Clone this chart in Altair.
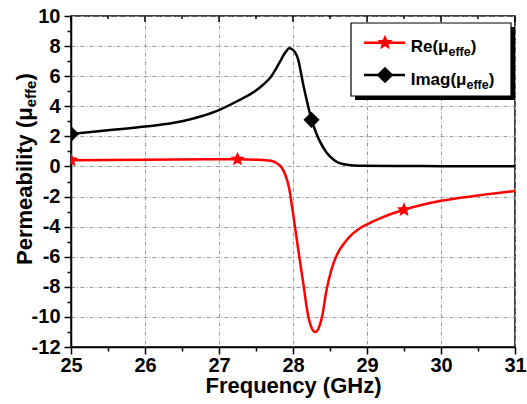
import altair as alt
import pandas as pd

# ---------------- data ----------------
freq_re = [25.0, 26.0, 27.0, 27.25, 27.5, 27.7, 27.75, 27.8, 27.85, 27.9, 27.95, 28.0,
           28.07, 28.14, 28.2, 28.25, 28.3, 28.35, 28.4, 28.45, 28.52, 28.6,
           28.7, 28.8, 28.9, 29.0, 29.2, 29.5, 30.0, 30.5, 31.0]
val_re = [0.42, 0.45, 0.48, 0.48, 0.45, 0.38, 0.3, 0.15, -0.1, -0.6, -1.5, -3.1,
          -5.5, -7.8, -9.8, -10.7, -11.0, -10.7, -9.8, -8.3, -6.85, -5.8,
          -5.05, -4.5, -4.12, -3.85, -3.4, -2.88, -2.28, -1.93, -1.63]

freq_im = [25.0, 25.5, 26.0, 26.5, 26.75, 27.0, 27.25, 27.5, 27.6, 27.7, 27.8, 27.9,
           27.95, 28.0, 28.07, 28.14, 28.2, 28.25, 28.3, 28.35, 28.45, 28.55, 28.63,
           28.75, 28.9, 29.5, 30.0, 31.0]
val_im = [2.16, 2.4, 2.65, 3.0, 3.32, 3.75, 4.35, 5.05, 5.45, 5.95, 6.75, 7.6,
          7.85, 7.75, 7.1, 5.4, 4.1, 3.1, 2.4, 1.8, 0.95, 0.45, 0.22,
          0.1, 0.05, 0.03, 0.02, 0.01]

re_marker_freq = [25.0, 27.25, 29.5]
re_marker_val = [0.42, 0.48, -2.88]
im_marker_freq = [25.0, 28.25]
im_marker_val = [2.16, 3.1]

x_major = [25, 26, 27, 28, 29, 30, 31]
x_minor = [25.5, 26.5, 27.5, 28.5, 29.5, 30.5]
y_ticks = list(range(-12, 11))

series_names = ["Re", "Imag"]
legend_main = ["Re(\u03bc", "Imag(\u03bc"]
sub_text = "effe"

# ---------------- layout helpers ----------------
FONT = "Liberation Sans"
W_PLOT, H_PLOT = 444, 331
W = {'R': 722, 'e': 556, '(': 333, ')': 333, '\u03bc': 611, 'I': 278, 'm': 889,
     'a': 556, 'g': 611, 'f': 333, 'P': 667, 'r': 389, 'b': 611, 'i': 278,
     'l': 278, 't': 333, 'y': 556, ' ': 278}


def tw(s, size):
    return sum(W.get(c, 556) for c in s) * size / 1000.0


STAR = ("M0,-1L0.2645,-0.3641L0.9511,-0.309L0.428,0.1391L0.5878,0.809L0,0.45"
        "L-0.5878,0.809L-0.428,0.1391L-0.9511,-0.309L-0.2645,-0.3641Z")

curves = pd.concat([
    pd.DataFrame({"f": freq_re, "v": val_re, "s": series_names[0]}),
    pd.DataFrame({"f": freq_im, "v": val_im, "s": series_names[1]}),
])
re_marks = pd.DataFrame({"f": re_marker_freq, "v": re_marker_val})
im_marks = pd.DataFrame({"f": im_marker_freq, "v": im_marker_val})

x_vals = sorted(x_major + x_minor)

x_axis = alt.Axis(
    values=x_vals,
    labelExpr="datum.value % 1 === 0 ? '' + datum.value : ''",
    tickSize={"condition": {"test": "datum.value % 1 !== 0", "value": 4}, "value": 7},
    gridOpacity={"condition": {"test": "datum.value % 1 !== 0", "value": 0}, "value": 1},
    grid=True, gridColor="#9a9a9a", gridDash=[4, 2, 1, 2], gridWidth=1,
    domainColor="black", domainWidth=1.5, tickColor="black", tickWidth=1.5,
    labelFont=FONT, labelFontSize=20, labelFontWeight="bold", labelColor="black",
    labelPadding=1, labelFlush=False,
    title="Frequency (GHz)", titleFont=FONT, titleFontSize=22, titleFontWeight="bold",
    titleColor="black", titleBaseline="alphabetic", titleY=45,
)
y_axis = alt.Axis(
    values=y_ticks,
    labelExpr="datum.value % 2 === 0 ? '' + datum.value : ''",
    tickSize={"condition": {"test": "datum.value % 2 !== 0", "value": 4}, "value": 7},
    gridOpacity={"condition": {"test": "datum.value % 2 !== 0", "value": 0}, "value": 1},
    grid=True, gridColor="#9a9a9a", gridDash=[4, 2, 1, 2], gridWidth=1,
    domainColor="black", domainWidth=1.5, tickColor="black", tickWidth=1.5,
    labelFont=FONT, labelFontSize=20, labelFontWeight="bold", labelColor="black",
    labelPadding=4, labelFlush=False, title=None,
)
x_enc = alt.X("f:Q", scale=alt.Scale(domain=[25, 31], nice=False, zero=False), axis=x_axis)
y_enc = alt.Y("v:Q", scale=alt.Scale(domain=[-12, 10], nice=False, zero=False), axis=y_axis)

lines = alt.Chart(curves).mark_line(strokeWidth=2.5, interpolate="monotone", clip=True).encode(
    x=x_enc, y=y_enc, detail="s:N",
    color=alt.Color("s:N", scale=alt.Scale(domain=series_names, range=["#ff0000", "#000000"]),
                    legend=None),
)
stars = alt.Chart(re_marks).mark_point(shape=STAR, size=230, filled=True, color="#ff0000",
                                       opacity=1, clip=True).encode(x=x_enc, y=y_enc)
diamonds = alt.Chart(im_marks).mark_point(shape="diamond", size=260, filled=True, color="black",
                                          opacity=1, clip=True).encode(x=x_enc, y=y_enc)

top_major = alt.Chart(pd.DataFrame({"f": x_major})).mark_rule(color="black", strokeWidth=1.5).encode(
    x=x_enc, y=alt.value(0), y2=alt.value(6))
top_minor = alt.Chart(pd.DataFrame({"f": x_minor})).mark_rule(color="black", strokeWidth=1.5).encode(
    x=x_enc, y=alt.value(0), y2=alt.value(3))

one = pd.DataFrame({"k": [0]})

# legend box with shadow
shadow = alt.Chart(one).mark_rect(color="black").encode(
    x=alt.value(284), x2=alt.value(444), y=alt.value(11), y2=alt.value(84))
box = alt.Chart(one).mark_rect(fill="white", stroke="black", strokeWidth=1.2).encode(
    x=alt.value(280), x2=alt.value(440), y=alt.value(7), y2=alt.value(80))

legend_layers = []
legend_colors = ["#ff0000", "#000000"]
line_ys = [26.7, 59.0]
text_ys = [35.7, 69.0]
shapes = [STAR, "diamond"]
sizes = [260, 280]
tx0 = 339.7
for i in range(2):
    c = legend_colors[i]
    legend_layers.append(alt.Chart(one).mark_rule(color=c, strokeWidth=2.5).encode(
        x=alt.value(293), x2=alt.value(339 - 5), y=alt.value(line_ys[i])))
    legend_layers.append(alt.Chart(one).mark_point(shape=shapes[i], size=sizes[i], filled=True,
                                                   color=c, opacity=1).encode(
        x=alt.value(314), y=alt.value(line_ys[i])))
    x1 = tx0 + tw(legend_main[i], 17)
    x2 = x1 + tw(sub_text, 12.5)
    legend_layers.append(alt.Chart(one).mark_text(font=FONT, fontWeight="bold", fontSize=17,
                                                  align="left", baseline="alphabetic",
                                                  color="black").encode(
        x=alt.value(tx0), y=alt.value(text_ys[i]), text=alt.value(legend_main[i])))
    legend_layers.append(alt.Chart(one).mark_text(font=FONT, fontWeight="bold", fontSize=12.5,
                                                  align="left", baseline="alphabetic",
                                                  color="black").encode(
        x=alt.value(x1), y=alt.value(text_ys[i] + 4), text=alt.value(sub_text)))
    legend_layers.append(alt.Chart(one).mark_text(font=FONT, fontWeight="bold", fontSize=17,
                                                  align="left", baseline="alphabetic",
                                                  color="black").encode(
        x=alt.value(x2), y=alt.value(text_ys[i]), text=alt.value(")")))

# y axis title with subscript
yt_main = "Permeability (\u03bc"
y0 = 249.0
y1 = y0 - tw(yt_main, 22)
y2 = y1 - tw(sub_text, 15)
ytitle = [
    alt.Chart(one).mark_text(font=FONT, fontWeight="bold", fontSize=22, angle=270, align="left",
                             baseline="alphabetic", color="black").encode(
        x=alt.value(-39.3), y=alt.value(y0), text=alt.value(yt_main)),
    alt.Chart(one).mark_text(font=FONT, fontWeight="bold", fontSize=15, angle=270, align="left",
                             baseline="alphabetic", color="black").encode(
        x=alt.value(-35.0), y=alt.value(y1), text=alt.value(sub_text)),
    alt.Chart(one).mark_text(font=FONT, fontWeight="bold", fontSize=22, angle=270, align="left",
                             baseline="alphabetic", color="black").encode(
        x=alt.value(-39.3), y=alt.value(y2), text=alt.value(")")),
]

chart = alt.layer(
    lines, stars, diamonds, top_major, top_minor, shadow, box, *legend_layers, *ytitle
).properties(
    width=W_PLOT, height=H_PLOT,
    autosize=alt.AutoSizeParams(type="none"),
    padding={"left": 71, "top": 16, "right": 12, "bottom": 57},
    background="white",
).configure_view(stroke="black", strokeWidth=1.5)

chart.save("out.html", embed_options={"renderer": "svg", "actions": False})
